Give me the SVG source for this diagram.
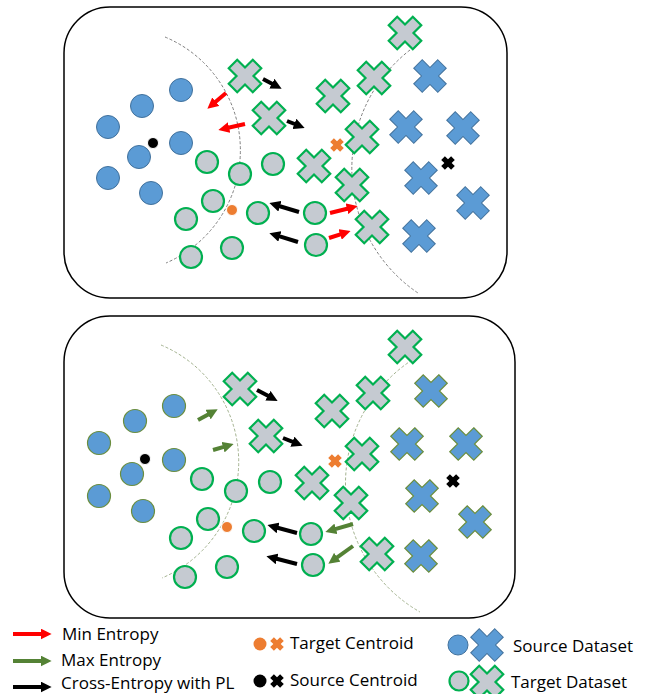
<svg xmlns="http://www.w3.org/2000/svg" xmlns:xlink="http://www.w3.org/1999/xlink" width="647" height="694" viewBox="0 0 647 694">
<style>
.box{fill:#fff;stroke:#000;stroke-width:1.5}
.src{fill:#5b9bd5;stroke:#41719c;stroke-width:1}
.src2{fill:#5b9bd5;stroke:#6b8e3e;stroke-width:1.2}
.tgt{fill:#c5cad1;stroke:#00b050;stroke-width:2.2}
.oc{fill:#ed7d31;stroke:#fff;stroke-width:1}
.kc{fill:#000;stroke:#fff;stroke-width:1}
.arc1{fill:none;stroke:#7f7f7f;stroke-width:1;stroke-dasharray:3 2}
.arc2{fill:none;stroke:#a3b28f;stroke-width:1;stroke-dasharray:3 2}
.ak{stroke:#000;stroke-width:4;fill:none;marker-end:url(#hk)}
.ar{stroke:#ff0000;stroke-width:4;fill:none;marker-end:url(#hr)}
.ag{stroke:#548235;stroke-width:4;fill:none;marker-end:url(#hg)}
.lg{font-family:"Open Sans","Liberation Sans",sans-serif;font-size:17px;fill:#000}
</style>
<defs>
<polygon id="xb" transform="rotate(45)" points="-6,-17 6,-17 6,-6 17,-6 17,6 6,6 6,17 -6,17 -6,6 -17,6 -17,-6 -6,-6"/>
<polygon id="xs" transform="rotate(45)" points="-2.6,-7 2.6,-7 2.6,-2.6 7,-2.6 7,2.6 2.6,2.6 2.6,7 -2.6,7 -2.6,2.6 -7,2.6 -7,-2.6 -2.6,-2.6"/>
<marker id="hk" viewBox="0 0 10 10" refX="4" refY="5" markerWidth="11" markerHeight="11" markerUnits="userSpaceOnUse" orient="auto"><path d="M0,0 L10,5 L0,10 z" fill="#000"/></marker>
<marker id="hr" viewBox="0 0 10 10" refX="4" refY="5" markerWidth="11" markerHeight="11" markerUnits="userSpaceOnUse" orient="auto"><path d="M0,0 L10,5 L0,10 z" fill="#ff0000"/></marker>
<marker id="hg" viewBox="0 0 10 10" refX="4" refY="5" markerWidth="11" markerHeight="11" markerUnits="userSpaceOnUse" orient="auto"><path d="M0,0 L10,5 L0,10 z" fill="#548235"/></marker>
</defs>

<!-- Panel frames -->
<g id="panel-top"><rect class="box" x="64" y="7" width="443" height="291" rx="46" ry="46"/></g>
<g id="panel-bottom"><rect class="box" x="64" y="316" width="451" height="302" rx="46" ry="46"/></g>

<!-- Decision boundaries -->
<g id="boundaries">
<path class="arc1" d="M165,37 A122.7,122.7 0 0 1 166,263"/>
<path class="arc1" d="M410,50 A150,150 0 0 0 418,293"/>
<path class="arc2" d="M161,345 A126.5,126.5 0 0 1 162,578"/>
<path class="arc2" d="M412,360 A148,148 0 0 0 420,612"/>
</g>

<!-- TOP PANEL NODES -->
<g id="top-source-circles">
<g id="t-sc1"><circle class="src" cx="181" cy="90" r="11.5"/></g>
<g id="t-sc2"><circle class="src" cx="142" cy="106" r="11.5"/></g>
<g id="t-sc3"><circle class="src" cx="108" cy="127" r="11.5"/></g>
<g id="t-sc4"><circle class="src" cx="139" cy="157" r="11.5"/></g>
<g id="t-sc5"><circle class="src" cx="181" cy="143" r="11.5"/></g>
<g id="t-sc6"><circle class="src" cx="108" cy="178" r="11.5"/></g>
<g id="t-sc7"><circle class="src" cx="151" cy="193" r="11.5"/></g>
</g>
<g id="t-src-centroid-c"><circle class="kc" cx="153" cy="143" r="5.5"/></g>
<g id="top-target-circles">
<g id="t-tc1"><circle class="tgt" cx="207" cy="162" r="11"/></g>
<g id="t-tc2"><circle class="tgt" cx="240" cy="174" r="11"/></g>
<g id="t-tc3"><circle class="tgt" cx="273" cy="164" r="11"/></g>
<g id="t-tc4"><circle class="tgt" cx="213" cy="201" r="11"/></g>
<g id="t-tc5"><circle class="tgt" cx="186" cy="219" r="11"/></g>
<g id="t-tc6"><circle class="tgt" cx="258" cy="213" r="11"/></g>
<g id="t-tc7"><circle class="tgt" cx="315" cy="213" r="11"/></g>
<g id="t-tc8"><circle class="tgt" cx="232" cy="248" r="11"/></g>
<g id="t-tc9"><circle class="tgt" cx="191" cy="257" r="11"/></g>
<g id="t-tc10"><circle class="tgt" cx="316" cy="245" r="11"/></g>
</g>
<g id="t-tgt-centroid-c"><circle class="oc" cx="232" cy="210" r="5.5"/></g>
<g id="top-target-crosses">
<g id="t-tx1"><use href="#xb" xlink:href="#xb" class="tgt" x="245" y="76"/></g>
<g id="t-tx2"><use href="#xb" xlink:href="#xb" class="tgt" x="269" y="118"/></g>
<g id="t-tx3"><use href="#xb" xlink:href="#xb" class="tgt" x="333" y="96"/></g>
<g id="t-tx4"><use href="#xb" xlink:href="#xb" class="tgt" x="314" y="166"/></g>
<g id="t-tx5"><use href="#xb" xlink:href="#xb" class="tgt" x="405" y="33"/></g>
<g id="t-tx6"><use href="#xb" xlink:href="#xb" class="tgt" x="374" y="78"/></g>
<g id="t-tx7"><use href="#xb" xlink:href="#xb" class="tgt" x="362" y="137"/></g>
<g id="t-tx8"><use href="#xb" xlink:href="#xb" class="tgt" x="352" y="185"/></g>
<g id="t-tx9"><use href="#xb" xlink:href="#xb" class="tgt" x="372" y="227"/></g>
</g>
<g id="t-tgt-centroid-x"><use href="#xs" xlink:href="#xs" fill="#ed7d31" x="337" y="145"/></g>
<g id="top-source-crosses">
<g id="t-sx1"><use href="#xb" xlink:href="#xb" class="src" x="430" y="76"/></g>
<g id="t-sx2"><use href="#xb" xlink:href="#xb" class="src" x="406" y="127"/></g>
<g id="t-sx3"><use href="#xb" xlink:href="#xb" class="src" x="463" y="128"/></g>
<g id="t-sx4"><use href="#xb" xlink:href="#xb" class="src" x="421" y="178"/></g>
<g id="t-sx5"><use href="#xb" xlink:href="#xb" class="src" x="473" y="203"/></g>
<g id="t-sx6"><use href="#xb" xlink:href="#xb" class="src" x="419" y="236"/></g>
</g>
<g id="t-src-centroid-x"><use href="#xs" xlink:href="#xs" fill="#000" x="448" y="163"/></g>

<!-- BOTTOM PANEL NODES -->
<g id="bottom-source-circles">
<g id="b-sc1"><circle class="src2" cx="174" cy="406" r="11.5"/></g>
<g id="b-sc2"><circle class="src2" cx="135" cy="421" r="11.5"/></g>
<g id="b-sc3"><circle class="src2" cx="99" cy="443" r="11.5"/></g>
<g id="b-sc4"><circle class="src2" cx="132" cy="474" r="11.5"/></g>
<g id="b-sc5"><circle class="src2" cx="174" cy="460" r="11.5"/></g>
<g id="b-sc6"><circle class="src2" cx="99" cy="496" r="11.5"/></g>
<g id="b-sc7"><circle class="src2" cx="143" cy="511" r="11.5"/></g>
</g>
<g id="b-src-centroid-c"><circle class="kc" cx="145" cy="459" r="5.5"/></g>
<g id="bottom-target-circles">
<g id="b-tc1"><circle class="tgt" cx="202" cy="479" r="11"/></g>
<g id="b-tc2"><circle class="tgt" cx="236" cy="491" r="11"/></g>
<g id="b-tc3"><circle class="tgt" cx="270" cy="482" r="11"/></g>
<g id="b-tc4"><circle class="tgt" cx="208" cy="519" r="11"/></g>
<g id="b-tc5"><circle class="tgt" cx="181" cy="538" r="11"/></g>
<g id="b-tc6"><circle class="tgt" cx="254" cy="531" r="11"/></g>
<g id="b-tc7"><circle class="tgt" cx="311" cy="534" r="11"/></g>
<g id="b-tc8"><circle class="tgt" cx="227" cy="567" r="11"/></g>
<g id="b-tc9"><circle class="tgt" cx="185" cy="577" r="11"/></g>
<g id="b-tc10"><circle class="tgt" cx="313" cy="565" r="11"/></g>
</g>
<g id="b-tgt-centroid-c"><circle class="oc" cx="227" cy="527" r="5.5"/></g>
<g id="bottom-target-crosses">
<g id="b-tx1"><use href="#xb" xlink:href="#xb" class="tgt" x="240" y="389"/></g>
<g id="b-tx2"><use href="#xb" xlink:href="#xb" class="tgt" x="266" y="436"/></g>
<g id="b-tx3"><use href="#xb" xlink:href="#xb" class="tgt" x="332" y="411"/></g>
<g id="b-tx4"><use href="#xb" xlink:href="#xb" class="tgt" x="312" y="483"/></g>
<g id="b-tx5"><use href="#xb" xlink:href="#xb" class="tgt" x="405" y="347"/></g>
<g id="b-tx6"><use href="#xb" xlink:href="#xb" class="tgt" x="373" y="393"/></g>
<g id="b-tx7"><use href="#xb" xlink:href="#xb" class="tgt" x="362" y="454"/></g>
<g id="b-tx8"><use href="#xb" xlink:href="#xb" class="tgt" x="351" y="503"/></g>
<g id="b-tx9"><use href="#xb" xlink:href="#xb" class="tgt" x="377" y="554"/></g>
</g>
<g id="b-tgt-centroid-x"><use href="#xs" xlink:href="#xs" fill="#ed7d31" x="335" y="461"/></g>
<g id="bottom-source-crosses">
<g id="b-sx1"><use href="#xb" xlink:href="#xb" class="src2" x="431" y="391"/></g>
<g id="b-sx2"><use href="#xb" xlink:href="#xb" class="src2" x="407" y="444"/></g>
<g id="b-sx3"><use href="#xb" xlink:href="#xb" class="src2" x="466" y="444"/></g>
<g id="b-sx4"><use href="#xb" xlink:href="#xb" class="src2" x="422" y="496"/></g>
<g id="b-sx5"><use href="#xb" xlink:href="#xb" class="src2" x="475" y="522"/></g>
<g id="b-sx6"><use href="#xb" xlink:href="#xb" class="src2" x="421" y="556"/></g>
</g>
<g id="b-src-centroid-x"><use href="#xs" xlink:href="#xs" fill="#000" x="453" y="481"/></g>

<!-- CONNECTORS -->
<g id="connectors">
<line class="ak" x1="263" y1="79" x2="275.8" y2="85.7"/>
<line class="ak" x1="287" y1="121" x2="298.5" y2="125.5"/>
<line class="ak" x1="299" y1="212" x2="275.7" y2="205"/>
<line class="ak" x1="298" y1="242" x2="275.7" y2="235.1"/>
<line class="ar" x1="226" y1="93" x2="212.4" y2="104.5"/>
<line class="ar" x1="245" y1="124" x2="224.8" y2="128.5"/>
<line class="ar" x1="330" y1="213" x2="351.2" y2="207.7"/>
<line class="ar" x1="329" y1="238" x2="344.3" y2="233.1"/>
<line class="ak" x1="257" y1="390" x2="271.8" y2="397.8"/>
<line class="ak" x1="283" y1="438" x2="296.5" y2="443.4"/>
<line class="ak" x1="297" y1="533" x2="273.8" y2="526.8"/>
<line class="ak" x1="297" y1="564" x2="272.8" y2="557.8"/>
<line class="ag" x1="198" y1="420" x2="211.9" y2="412.4"/>
<line class="ag" x1="213" y1="450" x2="227.3" y2="445.9"/>
<line class="ag" x1="353" y1="524" x2="331.7" y2="530.1"/>
<line class="ag" x1="353" y1="546" x2="333.7" y2="559.9"/>
</g>

<!-- LEGEND -->
<g id="legend">
<line class="ar" x1="13" y1="634" x2="45" y2="634"/>
<text class="lg" x="62" y="640">Min Entropy</text>
<line class="ag" x1="13" y1="661" x2="45" y2="661"/>
<text class="lg" x="61" y="666">Max Entropy</text>
<line class="ak" x1="13" y1="687" x2="45" y2="687"/>
<text class="lg" x="61" y="689">Cross-Entropy with PL</text>
<circle cx="260" cy="644" r="6.5" fill="#ed7d31"/>
<use href="#xs" xlink:href="#xs" fill="#ed7d31" x="277" y="644"/>
<text class="lg" x="290" y="649">Target Centroid</text>
<circle cx="260" cy="681" r="6.5" fill="#000"/>
<use href="#xs" xlink:href="#xs" fill="#000" x="277" y="681"/>
<text class="lg" x="290" y="686">Source Centroid</text>
<circle class="src" cx="458" cy="645" r="10"/>
<use href="#xb" xlink:href="#xb" class="src" x="487" y="645"/>
<text class="lg" x="513" y="652">Source Dataset</text>
<circle class="tgt" cx="459" cy="681" r="9.5"/>
<use href="#xb" xlink:href="#xb" class="tgt" x="487" y="682"/>
<text class="lg" x="511" y="688">Target Dataset</text>
</g>
</svg>
